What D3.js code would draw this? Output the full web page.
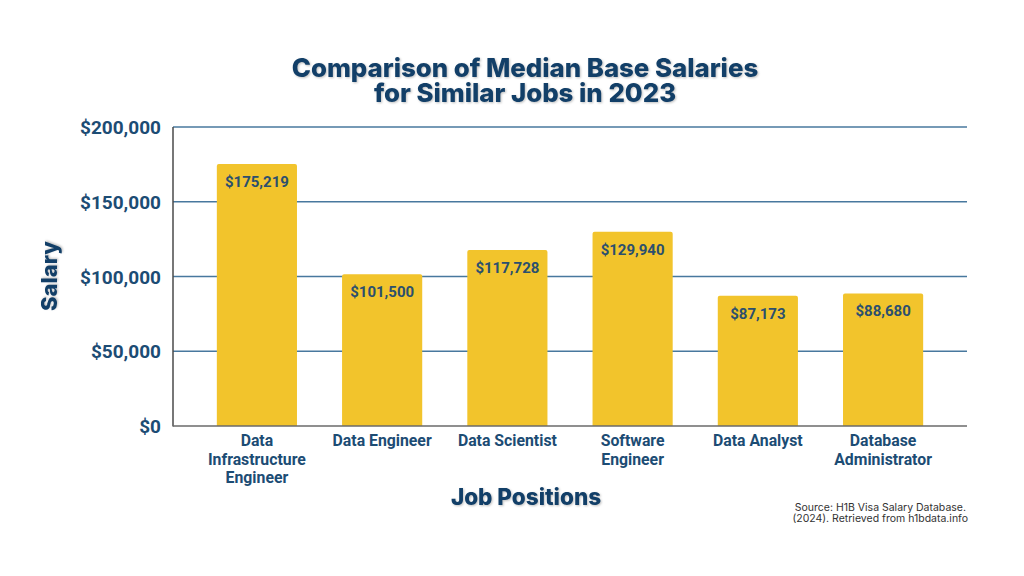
<!DOCTYPE html>
<html><head><meta charset="utf-8">
<script src="https://cdn.jsdelivr.net/npm/d3@7"></script>
<style>
body{margin:0;background:#fff;}
svg{display:block;}
.shadow{filter:drop-shadow(1px 1px 1.2px rgba(0,0,0,0.25));}
</style>
</head><body>
<svg id="chart" width="1024" height="576"></svg>
<script>
const categories = ["Data Infrastructure Engineer","Data Engineer","Data Scientist","Software Engineer","Data Analyst","Database Administrator"];
const categoryLines = [["Data","Infrastructure","Engineer"],["Data Engineer"],["Data Scientist"],["Software","Engineer"],["Data Analyst"],["Database","Administrator"]];
const salaries = [175219, 101500, 117728, 129940, 87173, 88680];
const yTicks = [0, 50000, 100000, 150000, 200000];
const titleLines = ["Comparison of Median Base Salaries","for Similar Jobs in 2023"];
const sourceLines = ["Source: H1B Visa Salary Database.","(2024). Retrieved from h1bdata.info"];

const svg = d3.select("#chart");
const L = 173, R = 967, T = 127, B = 426;
const navy = "#123f68";

const x = d3.scaleBand().domain(categories).range([L, R]).paddingInner(0.36).paddingOuter(0.35);
const y = d3.scaleLinear().domain([0, 200000]).range([B, T]);

// gridlines
svg.append("g").selectAll("line").data(yTicks.filter(d => d > 0)).join("line")
  .attr("x1", L).attr("x2", R).attr("y1", d => y(d)).attr("y2", d => y(d))
  .attr("stroke", "#48789e").attr("stroke-width", 1.5);

// bars
const rr = 2;
svg.append("g").selectAll("path").data(salaries).join("path")
  .attr("fill", "#f2c42c")
  .attr("d", (d, i) => {
    const x0 = x(categories[i]), w = x.bandwidth(), y0 = y(d), y1 = y(0);
    return `M${x0},${y1}V${y0+rr}Q${x0},${y0} ${x0+rr},${y0}H${x0+w-rr}Q${x0+w},${y0} ${x0+w},${y0+rr}V${y1}Z`;
  });

// bar labels
const fmt = d3.format("$,");
svg.append("g").selectAll("text").data(salaries).join("text")
  .attr("x", (d, i) => x(categories[i]) + x.bandwidth() / 2)
  .attr("y", d => y(d) + 23)
  .attr("text-anchor", "middle")
  .attr("font-family", "Roboto, sans-serif").attr("font-weight", 700).attr("font-size", 15)
  .attr("fill", "#2b4f6e")
  .text(d => fmt(d));

// axes lines
svg.append("line").attr("x1", L).attr("x2", L).attr("y1", T).attr("y2", B + 0.5)
  .attr("stroke", "#4a4a4a").attr("stroke-width", 1.5);
svg.append("line").attr("x1", L).attr("x2", R).attr("y1", B).attr("y2", B)
  .attr("stroke", "#6a6a6a").attr("stroke-width", 1.5);

// y tick labels
svg.append("g").selectAll("text").data(yTicks).join("text")
  .attr("x", 161).attr("y", d => y(d) + 7)
  .attr("text-anchor", "end")
  .attr("font-family", "Roboto, sans-serif").attr("font-weight", 700).attr("font-size", 19)
  .attr("fill", "#1c4c74")
  .text(d => fmt(d));

// x tick labels
const xl = svg.append("g").selectAll("text").data(categories).join("text")
  .attr("x", d => x(d) + x.bandwidth() / 2)
  .attr("y", 446)
  .attr("text-anchor", "middle")
  .attr("font-family", "Roboto, sans-serif").attr("font-weight", 700).attr("font-size", 15.8)
  .attr("fill", "#1c4c74");
xl.each(function(d, i) {
  d3.select(this).selectAll("tspan").data(categoryLines[i]).join("tspan")
    .attr("x", x(d) + x.bandwidth() / 2)
    .attr("dy", (t, j) => j === 0 ? 0 : 18.5)
    .text(t => t);
});

// title
svg.append("text").attr("class", "shadow")
  .attr("x", 525).attr("y", 77)
  .attr("text-anchor", "middle")
  .attr("font-family", "Inter, sans-serif").attr("font-weight", 800).attr("font-size", 25.8)
  .attr("fill", navy)
  .selectAll("tspan").data(titleLines).join("tspan")
  .attr("x", 525).attr("dy", (t, j) => j === 0 ? 0 : 24.5).text(t => t);

// axis titles
svg.append("text").attr("class", "shadow")
  .attr("transform", "translate(57,276) rotate(-90)")
  .attr("text-anchor", "middle")
  .attr("font-family", "Inter, sans-serif").attr("font-weight", 800).attr("font-size", 22)
  .attr("fill", navy).text("Salary");
svg.append("text").attr("class", "shadow")
  .attr("x", 526).attr("y", 505)
  .attr("text-anchor", "middle")
  .attr("font-family", "Inter, sans-serif").attr("font-weight", 800).attr("font-size", 22.5)
  .attr("fill", navy).text("Job Positions");

// source
svg.append("text")
  .attr("x", 967).attr("y", 511)
  .attr("text-anchor", "end")
  .attr("font-family", "Inter, sans-serif").attr("font-size", 10.5)
  .attr("fill", "#333")
  .selectAll("tspan").data(sourceLines).join("tspan")
  .attr("x", (t, j) => j === 0 ? 966 : 968).attr("dy", (t, j) => j === 0 ? 0 : 11).text(t => t);
</script>
</body></html>
